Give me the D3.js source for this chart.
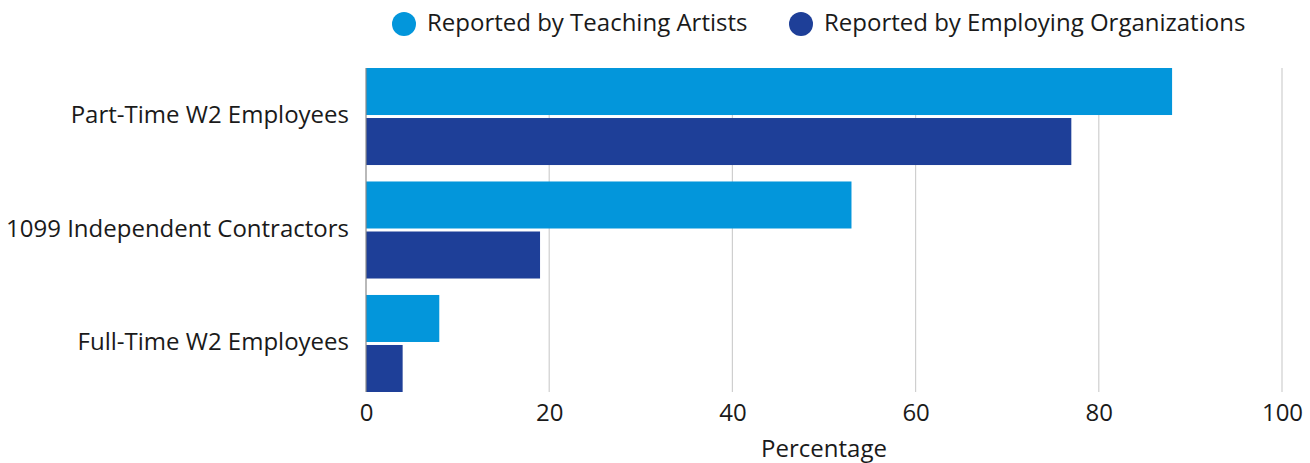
<!DOCTYPE html>
<html>
<head>
<meta charset="utf-8">
<script src="https://cdn.jsdelivr.net/npm/d3@7"></script>
<style>
  html, body { margin: 0; padding: 0; background: #fff; }
  svg { display: block; font-family: "Open Sans", sans-serif; }
</style>
</head>
<body>
<svg id="chart" width="1310" height="463"></svg>
<script>
// Employment types, top to bottom
const categories = ["Part-Time W2 Employees", "1099 Independent Contractors", "Full-Time W2 Employees"];
// Series names and colours
const seriesNames = ["Reported by Teaching Artists", "Reported by Employing Organizations"];
const seriesColors = ["#0396DB", "#1E3F98"];
// Percentages per category
const teachingArtists = [88, 53, 8];
const employingOrgs = [77, 19, 4];
const xTicks = [0, 20, 40, 60, 80, 100];
const xTitle = "Percentage";

const seriesValues = [teachingArtists, employingOrgs];
const rows = categories.map((c, i) => ({
  category: c,
  values: seriesNames.map((s, j) => ({ series: s, value: seriesValues[j][i], color: seriesColors[j] }))
}));

const FONT = 24;
const svg = d3.select("#chart");
const margin = { top: 68, right: 28, bottom: 71, left: 366 };
const width = 1310, height = 463;

const x = d3.scaleLinear().domain([0, 100]).range([margin.left, width - margin.right]);
const y0 = d3.scaleBand().domain(categories).range([margin.top, height - margin.bottom])
  .paddingInner(0.145).paddingOuter(0);
const y1 = d3.scaleBand().domain(seriesNames).range([0, y0.bandwidth()]).paddingInner(0.06);

// Vertical gridlines
svg.append("g")
  .selectAll("line")
  .data(xTicks.filter(t => t !== 0))
  .join("line")
  .attr("x1", d => x(d)).attr("x2", d => x(d))
  .attr("y1", margin.top).attr("y2", height - margin.bottom)
  .attr("stroke", "#cfcfcf").attr("stroke-width", 1.2);

// Bars
const groups = svg.append("g")
  .selectAll("g")
  .data(rows)
  .join("g")
  .attr("transform", d => `translate(0,${y0(d.category)})`);

groups.selectAll("rect")
  .data(d => d.values)
  .join("rect")
  .attr("x", x(0))
  .attr("y", d => y1(d.series))
  .attr("width", d => x(d.value) - x(0))
  .attr("height", y1.bandwidth())
  .attr("fill", d => d.color);

// Baseline at zero
svg.append("line")
  .attr("x1", x(0)).attr("x2", x(0))
  .attr("y1", margin.top).attr("y2", height - margin.bottom)
  .attr("stroke", "#8a8a8a").attr("stroke-width", 1.2);

// X axis labels
const xAxis = d3.axisBottom(x).tickValues(xTicks).tickSize(0).tickPadding(12);
const gx = svg.append("g")
  .attr("transform", `translate(0,${height - margin.bottom})`)
  .call(xAxis);
gx.select(".domain").remove();
gx.selectAll("text")
  .attr("font-family", "Open Sans, sans-serif")
  .attr("font-size", FONT)
  .attr("fill", "#1a1a1a");

// Y axis labels
const yAxis = d3.axisLeft(y0).tickSize(0).tickPadding(17);
const gy = svg.append("g")
  .attr("transform", `translate(${margin.left},0)`)
  .call(yAxis);
gy.select(".domain").remove();
gy.selectAll("text")
  .attr("font-family", "Open Sans, sans-serif")
  .attr("font-size", FONT)
  .attr("fill", "#1a1a1a")
  .attr("dy", "0.28em");

// Axis title
svg.append("text")
  .attr("x", (x(0) + x(100)) / 2)
  .attr("y", 457)
  .attr("text-anchor", "middle")
  .attr("font-size", FONT)
  .attr("fill", "#1a1a1a")
  .text(xTitle);

// Legend
const legendX = [404, 801];
const legend = svg.append("g")
  .selectAll("g")
  .data(seriesNames)
  .join("g")
  .attr("transform", (d, i) => `translate(${legendX[i]},23)`);
legend.append("circle")
  .attr("cy", 1)
  .attr("r", 12)
  .attr("fill", (d, i) => seriesColors[i]);
legend.append("text")
  .attr("x", 23)
  .attr("dy", "0.33em")
  .attr("font-size", FONT)
  .attr("fill", "#1a1a1a")
  .text(d => d);
</script>
</body>
</html>
